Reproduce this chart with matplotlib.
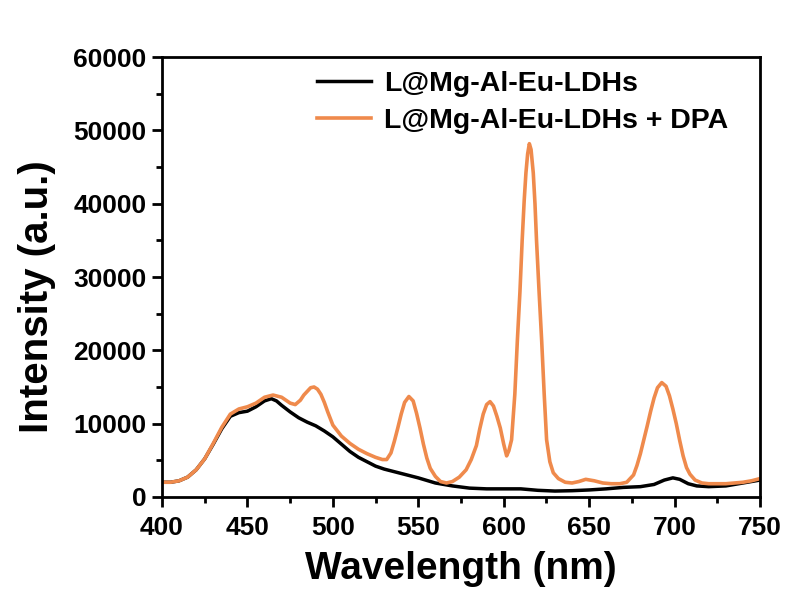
import matplotlib
matplotlib.use('agg')
import matplotlib.pyplot as plt
from matplotlib.ticker import MultipleLocator

# emission spectra
wl_ldh = [400, 405, 410, 415, 420, 425, 430, 435, 440, 445, 450, 455, 460, 464, 467,
          470, 475, 480, 485, 490, 495, 500, 505, 510, 515, 520, 525, 530, 540, 550,
          560, 570, 580, 590, 600, 610, 620, 630, 640, 650, 660, 670, 680, 688, 694,
          699, 703, 708, 713, 720, 730, 740, 750]
int_ldh = [2000, 2000, 2200, 2700, 3700, 5200, 7200, 9300, 11000, 11500, 11700, 12300,
           13100, 13400, 13100, 12500, 11600, 10800, 10200, 9700, 9000, 8200, 7200,
           6200, 5400, 4800, 4200, 3800, 3200, 2600, 1900, 1500, 1200, 1100, 1100, 1100,
           900, 800, 850, 950, 1100, 1300, 1400, 1700, 2300, 2600, 2400, 1800, 1500,
           1400, 1500, 1900, 2300]

wl_dpa = [400, 405, 410, 415, 420, 425, 430, 435, 440, 445, 450, 455, 460, 465, 470,
          475, 478, 481, 483, 485, 487, 489, 491, 493, 495, 497, 500, 505, 510, 515,
          520, 525, 529, 531.5, 534, 536, 538, 540, 542, 544.5, 547, 549, 551, 553, 555,
          557, 560, 563, 566.5, 570, 574, 578, 581, 584, 586, 588, 590, 592, 594, 596,
          598, 600, 601.7, 603, 604.6, 606.5, 608, 609.5, 610.8, 612, 613, 614, 615,
          616, 617.3, 618.3, 619.2, 620.7, 622.2, 623.7, 625.1, 627, 629, 632, 636, 640,
          644, 648, 653, 658, 663, 668, 672, 676, 678, 680, 682, 684, 686, 688, 690,
          692.5, 695, 697, 699, 701, 703, 705, 707, 709, 712, 716, 720, 730, 740, 745,
          750]
int_dpa = [2000, 2000, 2200, 2700, 3700, 5200, 7300, 9500, 11300, 12000, 12300, 12800,
           13600, 13900, 13600, 12800, 12600, 13200, 13900, 14400, 14900, 15000, 14700,
           14000, 12900, 11600, 9800, 8300, 7300, 6500, 5900, 5400, 5100, 5100, 6000,
           7600, 9400, 11300, 12900, 13700, 13100, 11400, 9400, 7200, 5300, 3900, 2800,
           2100, 1900, 2100, 2700, 3700, 5100, 7000, 9300, 11300, 12600, 13000, 12400,
           11000, 9400, 7200, 5600, 6300, 7800, 14000, 21400, 28000, 35000, 40500, 44200,
           46800, 48200, 47400, 44200, 40000, 35000, 28000, 21400, 14000, 7800, 4800,
           3300, 2500, 2000, 1900, 2100, 2400, 2200, 1900, 1800, 1800, 2000, 3000, 4300,
           5900, 7800, 9700, 11700, 13500, 14900, 15600, 15100, 13800, 12000, 10000, 7700,
           5600, 4000, 3100, 2300, 1900, 1800, 1800, 2000, 2200, 2500]

labels = ['L@Mg-Al-Eu-LDHs', 'L@Mg-Al-Eu-LDHs + DPA']

plt.rcParams['font.family'] = ['Liberation Sans', 'DejaVu Sans']
plt.rcParams['font.weight'] = 'bold'

fig = plt.figure(figsize=(8, 6.15), dpi=100)
ax = fig.add_axes([0.2025, 0.192, 0.7475, 0.715])

ax.plot(wl_ldh, int_ldh, color='black', lw=2.5, label=labels[0])
ax.plot(wl_dpa, int_dpa, color='#EF8A4C', lw=2.6, label=labels[1])

ax.set_xlim(400, 750)
ax.set_ylim(0, 60000)
ax.xaxis.set_major_locator(MultipleLocator(50))
ax.xaxis.set_minor_locator(MultipleLocator(25))
ax.yaxis.set_major_locator(MultipleLocator(10000))
ax.yaxis.set_minor_locator(MultipleLocator(5000))
ax.tick_params(which='major', direction='out', length=7, width=2, labelsize=19)
ax.tick_params(axis='x', which='major', pad=7)
ax.tick_params(axis='y', which='major', pad=4)
ax.tick_params(which='minor', direction='out', length=4, width=2)
for s in ax.spines.values():
    s.set_linewidth(2)

ax.set_xlabel('Wavelength (nm)', fontsize=28, fontweight='bold', labelpad=8)
ax.set_ylabel('Intensity (a.u.)', fontsize=29, fontweight='bold')
ax.yaxis.set_label_coords(-0.178, 0.455)

ax.legend(loc='upper left', bbox_to_anchor=(0.217, 1.026), frameon=False,
          fontsize=20.5, handlelength=1.9, handletextpad=0.45, labelspacing=0.36)

plt.savefig('out.png', dpi=100)
